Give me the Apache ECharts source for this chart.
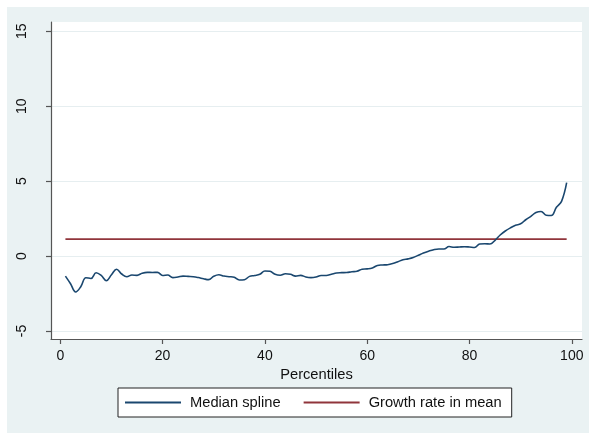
<!DOCTYPE html>
<html>
<head>
<meta charset="utf-8">
<script src="https://cdn.jsdelivr.net/npm/echarts@6/dist/echarts.min.js"></script>
<style>
  html, body { margin: 0; padding: 0; background: #ffffff; }
  #chart { width: 589px; height: 433px; }
</style>
</head>
<body>
<div id="chart"></div>
<script>
// Percentile positions and the median spline of growth rates
const percentiles = [
  1, 2, 3, 4, 5, 6, 7, 8, 9, 10,
  11, 12, 13, 14, 15, 16, 17, 18, 19, 20,
  21, 22, 23, 24, 25, 26, 27, 28, 29, 30,
  31, 32, 33, 34, 35, 36, 37, 38, 39, 40,
  41, 42, 43, 44, 45, 46, 47, 48, 49, 50,
  51, 52, 53, 54, 55, 56, 57, 58, 59, 60,
  61, 62, 63, 64, 65, 66, 67, 68, 69, 70,
  71, 72, 73, 74, 75, 76, 77, 78, 79, 80,
  81, 82, 83, 84, 85, 86, 87, 88, 89, 90,
  91, 92, 93, 94, 95, 96, 97, 98, 99
];
const medianSpline = [
  -1.34, -1.85, -2.40, -2.05, -1.45, -1.50, -1.12, -1.30, -1.65, -1.25,
  -0.88, -1.20, -1.38, -1.27, -1.29, -1.15, -1.09, -1.10, -1.09, -1.30,
  -1.27, -1.44, -1.40, -1.34, -1.36, -1.38, -1.44, -1.52, -1.58, -1.35,
  -1.25, -1.34, -1.38, -1.42, -1.60, -1.58, -1.36, -1.30, -1.22, -1.00,
  -1.02, -1.22, -1.28, -1.18, -1.22, -1.34, -1.29, -1.40, -1.44, -1.40,
  -1.30, -1.30, -1.22, -1.13, -1.11, -1.10, -1.05, -1.02, -0.88, -0.86,
  -0.80, -0.63, -0.60, -0.58, -0.50, -0.38, -0.25, -0.19, -0.10, 0.05,
  0.20, 0.32, 0.42, 0.47, 0.47, 0.63, 0.58, 0.60, 0.62, 0.60,
  0.57, 0.80, 0.82, 0.80, 1.05, 1.40, 1.67, 1.88, 2.05, 2.15,
  2.42, 2.65, 2.90, 2.97, 2.72, 2.70, 3.25, 3.65, 4.90
];
// Growth rate in mean, flat across the distribution
const meanGrowth = 1.13;
const meanSpan = [1, 99];

// Tick labels
const xTicks = [0, 20, 40, 60, 80, 100];
const yTicks = [-5, 0, 5, 10, 15];

const chart = echarts.init(document.getElementById('chart'), null, { renderer: 'canvas' });

const splineData = percentiles.map((p, i) => [p, medianSpline[i]]);
const meanData = meanSpan.map(p => [p, meanGrowth]);

const textColor = '#111111';
const axisColor = '#555555';
const panelColor = '#EAF2F3';
const fontFamily = 'Liberation Sans, Arial, sans-serif';

chart.setOption({
  animation: false,
  backgroundColor: '#ffffff',
  graphic: [{
    type: 'rect',
    z: -10,
    silent: true,
    shape: { x: 7, y: 7, width: 582, height: 426 },
    style: { fill: panelColor }
  }],
  grid: {
    left: 51, right: 7, top: 22, bottom: 94,
    show: true,
    backgroundColor: '#ffffff',
    borderWidth: 0,
    containLabel: false
  },
  xAxis: {
    type: 'value',
    min: -1.82,
    max: 102.0,
    name: 'Percentiles',
    nameLocation: 'middle',
    nameGap: 23,
    nameTextStyle: { fontFamily: fontFamily, fontSize: 14.7, color: textColor },
    axisLine: { show: true, onZero: false, lineStyle: { color: axisColor, width: 1.2 } },
    axisTick: { show: true, customValues: xTicks, length: 5, lineStyle: { color: axisColor, width: 1.2 } },
    axisLabel: {
      customValues: xTicks,
      fontFamily: fontFamily,
      fontSize: 14,
      color: textColor,
      margin: 10
    },
    splitLine: { show: false }
  },
  yAxis: {
    type: 'value',
    min: -5.54,
    max: 15.62,
    axisLine: { show: true, onZero: false, lineStyle: { color: axisColor, width: 1.2 } },
    axisTick: { show: true, customValues: yTicks, length: 5, lineStyle: { color: axisColor, width: 1.2 } },
    axisLabel: {
      customValues: yTicks,
      rotate: 90,
      fontFamily: fontFamily,
      fontSize: 14,
      color: textColor,
      margin: 22
    },
    splitLine: { show: false }
  },
  legend: {
    left: 118,
    top: 388,
    orient: 'horizontal',
    padding: [7, 10, 7, 6],
    itemWidth: 56,
    itemHeight: 14,
    itemGap: 22,
    backgroundColor: '#ffffff',
    borderColor: '#222222',
    borderWidth: 1,
    itemStyle: { opacity: 0 },
    textStyle: {
      fontFamily: fontFamily,
      fontSize: 14.7,
      color: textColor,
      padding: [0, 0, 0, 4]
    },
    data: ['Median spline', 'Growth rate in mean']
  },
  series: [
    {
      // horizontal grid lines at the labelled y ticks
      name: 'grid',
      type: 'line',
      data: [],
      silent: true,
      z: 0,
      markLine: {
        silent: true,
        z: 0,
        symbol: 'none',
        label: { show: false },
        lineStyle: { color: '#E6EEF0', width: 1.2, type: 'solid' },
        data: yTicks.map(v => ({ yAxis: v }))
      }
    },
    {
      name: 'Median spline',
      type: 'line',
      data: splineData,
      smooth: 0.4,
      symbol: 'none',
      z: 3,
      lineStyle: { color: '#1A476F', width: 1.6 },
      itemStyle: { color: '#1A476F' }
    },
    {
      name: 'Growth rate in mean',
      type: 'line',
      data: meanData,
      symbol: 'none',
      z: 2,
      lineStyle: { color: '#90353B', width: 1.6 },
      itemStyle: { color: '#90353B' }
    }
  ]
});
</script>
</body>
</html>
